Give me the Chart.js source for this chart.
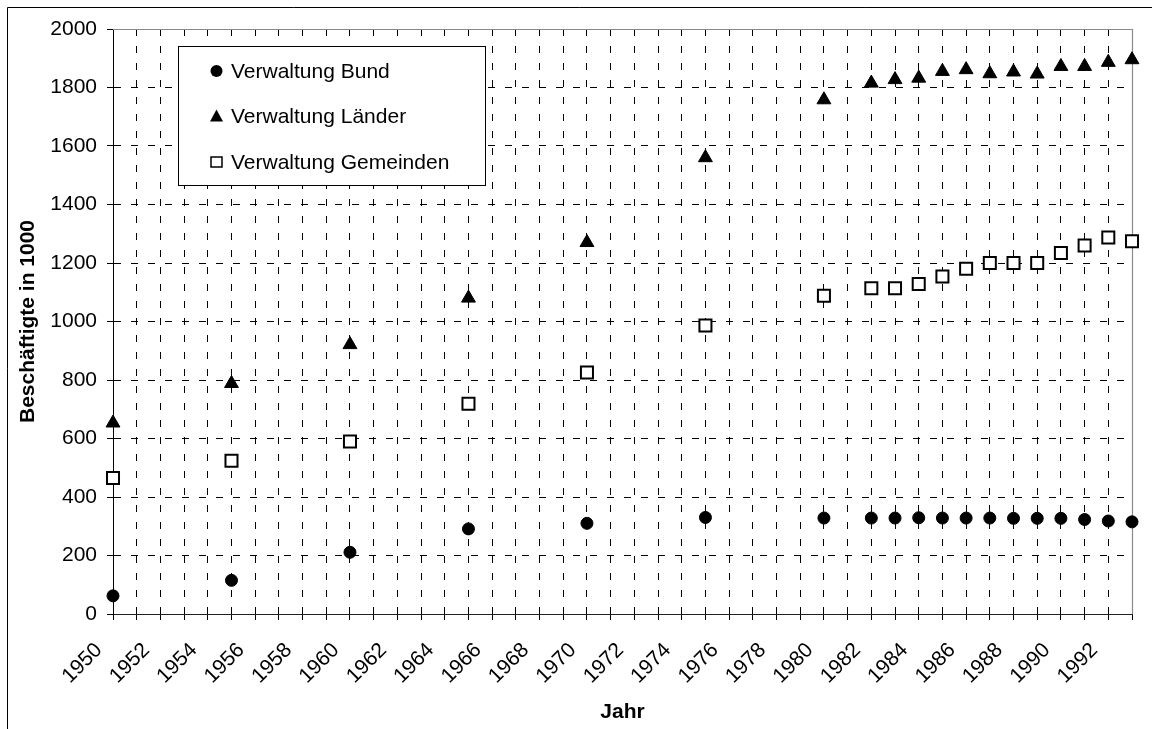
<!DOCTYPE html>
<html lang="de">
<head>
<meta charset="UTF-8">
<title>Beschäftigte in der Verwaltung</title>
<script src="https://cdn.jsdelivr.net/npm/chart.js@4.4.0/dist/chart.umd.min.js"></script>
<style>
    html, body { margin: 0; padding: 0; background: #fff; overflow: hidden; }
    #wrap { width: 1152px; height: 729px; }
</style>
</head>
<body>
<div id="wrap"><canvas id="myChart" width="1152" height="729"></canvas></div>
<script>
// Beschäftigte in 1000
var years = [1950, 1955, 1960, 1965, 1970, 1975, 1980, 1982, 1983, 1984, 1985, 1986, 1987, 1988, 1989, 1990, 1991, 1992, 1993];
var bund = [62, 115, 211, 291, 310, 330, 328, 328, 328, 329, 328, 328, 328, 327, 327, 327, 323, 318, 315];
var laender = [653, 788, 921, 1080, 1270, 1560, 1758, 1815, 1827, 1832, 1855, 1861, 1847, 1853, 1846, 1872, 1872, 1886, 1895];
var gemeinden = [465, 524, 590, 719, 826, 986, 1088, 1114, 1114, 1128, 1154, 1180, 1200, 1200, 1200, 1234, 1260, 1287, 1274];
var seriesNames = ["Verwaltung Bund", "Verwaltung Länder", "Verwaltung Gemeinden"];
var xMin = 1950, xMax = 1993;
var yMin = 0, yMax = 2000, yStep = 200;

var FONT = "'Liberation Sans', Arial, sans-serif";
Chart.defaults.font.family = FONT;
Chart.defaults.font.size = 21;
Chart.defaults.color = '#000';

function toPoints(vals) {
    return years.map(function (y, i) { return {x: y, y: vals[i]}; });
}

var styles = [
    {pointStyle: 'circle', pointRadius: 6, backgroundColor: '#000', borderColor: '#000', borderWidth: 1},
    {pointStyle: 'triangle', pointRadius: 8, backgroundColor: '#000', borderColor: '#000', borderWidth: 1},
    {pointStyle: 'rect', pointRadius: 8.5, backgroundColor: '#fff', borderColor: '#000', borderWidth: 2}
];
var series = [bund, laender, gemeinden];

var datasets = series.map(function (vals, i) {
    return Object.assign({
        label: seriesNames[i],
        data: toPoints(vals),
        showLine: false,
        clip: false,
        pointHoverRadius: styles[i].pointRadius
    }, styles[i]);
});

function drawMark(ctx, kind, x, y) {
    ctx.save();
    ctx.beginPath();
    if (kind === 0) {
        ctx.arc(x, y, 6, 0, Math.PI * 2);
        ctx.fillStyle = '#000';
        ctx.fill();
    } else if (kind === 1) {
        ctx.moveTo(x, y - 7);
        ctx.lineTo(x + 6.5, y + 5);
        ctx.lineTo(x - 6.5, y + 5);
        ctx.closePath();
        ctx.fillStyle = '#000';
        ctx.fill();
    } else {
        ctx.rect(x - 5.5, y - 5, 11, 10);
        ctx.fillStyle = '#fff';
        ctx.fill();
        ctx.lineWidth = 1.5;
        ctx.strokeStyle = '#000';
        ctx.stroke();
    }
    ctx.restore();
}

var decorations = {
    id: 'decorations',
    beforeDraw: function (chart) {
        var ctx = chart.ctx;
        ctx.save();
        ctx.fillStyle = '#fff';
        ctx.fillRect(0, 0, chart.width, chart.height);
        ctx.strokeStyle = '#000';
        ctx.lineWidth = 1;
        ctx.beginPath();
        ctx.moveTo(7.5, chart.height);
        ctx.lineTo(7.5, 7.5);
        ctx.lineTo(chart.width, 7.5);
        ctx.stroke();
        ctx.restore();
    },
    beforeDatasetsDraw: function (chart) {
        var a = chart.chartArea, ctx = chart.ctx;
        ctx.save();
        ctx.strokeStyle = '#8a8a8a';
        ctx.lineWidth = 1.2;
        ctx.beginPath();
        ctx.moveTo(Math.round(a.left), Math.round(a.top) + 0.5);
        ctx.lineTo(Math.round(a.right) + 0.5, Math.round(a.top) + 0.5);
        ctx.lineTo(Math.round(a.right) + 0.5, Math.round(a.bottom));
        ctx.stroke();
        ctx.restore();
    },
    afterDraw: function (chart) {
        var ctx = chart.ctx;
        var box = {left: 178.5, top: 46.5, right: 485.5, bottom: 185.5};
        ctx.save();
        ctx.fillStyle = '#fff';
        ctx.fillRect(box.left, box.top, box.right - box.left, box.bottom - box.top);
        ctx.strokeStyle = '#000';
        ctx.lineWidth = 1;
        ctx.strokeRect(box.left, box.top, box.right - box.left, box.bottom - box.top);
        ctx.font = '21px ' + FONT;
        ctx.textBaseline = 'middle';
        ctx.textAlign = 'left';
        ctx.fillStyle = '#000';
        var rows = [71, 116.5, 162];
        chart.data.datasets.forEach(function (ds, i) {
            drawMark(ctx, i, 216.5, rows[i]);
            ctx.fillText(ds.label, 231, rows[i] + 1);
        });
        ctx.restore();
    }
};

var ctx = document.getElementById('myChart').getContext('2d');
var myChart = new Chart(ctx, {
    type: 'scatter',
    data: {datasets: datasets},
    options: {
        responsive: false,
        animation: false,
        events: [],
        layout: {padding: {left: 0, top: 29, right: 20, bottom: 0}},
        plugins: {legend: {display: false}, tooltip: {enabled: false}},
        scales: {
            x: {
                type: 'linear',
                min: xMin,
                max: xMax,
                afterFit: function (s) {
                    s.height = 115;
                    s.paddingRight = 0;
                    s.paddingLeft = 0;
                },
                ticks: {
                    stepSize: 1,
                    autoSkip: false,
                    maxRotation: 45,
                    minRotation: 45,
                    padding: 18,
                    labelOffset: -14,
                    color: '#000',
                    font: {size: 21},
                    callback: function (v) { return v % 2 === 0 ? String(v) : ''; }
                },
                grid: {
                    color: function (c) {
                        var v = c.tick ? c.tick.value : null;
                        return (v === xMin || v === xMax) ? 'rgba(0,0,0,0)' : '#000';
                    },
                    tickColor: '#000',
                    tickLength: 6,
                    lineWidth: 1
                },
                border: {display: true, color: '#222', width: 1, dash: [7, 10]},
                title: {
                    display: true,
                    text: 'Jahr',
                    color: '#000',
                    font: {size: 21, weight: 'bold'},
                    padding: {top: 0, bottom: 4}
                }
            },
            y: {
                min: yMin,
                max: yMax,
                afterFit: function (s) { s.width = 113; },
                ticks: {
                    stepSize: yStep,
                    padding: 10,
                    color: '#000',
                    font: {size: 21},
                    callback: function (v) { return String(v); }
                },
                grid: {
                    color: function (c) {
                        var v = c.tick ? c.tick.value : null;
                        return (v === yMin || v === yMax) ? 'rgba(0,0,0,0)' : '#000';
                    },
                    tickColor: '#000',
                    tickLength: 6,
                    lineWidth: 1
                },
                border: {display: true, color: '#000', width: 1, dash: [7, 10]},
                title: {
                    display: true,
                    text: 'Beschäftigte in 1000',
                    color: '#000',
                    font: {size: 21, weight: 'bold'},
                    padding: {top: 16, bottom: 0}
                }
            }
        }
    },
    plugins: [decorations]
});
</script>
</body>
</html>
